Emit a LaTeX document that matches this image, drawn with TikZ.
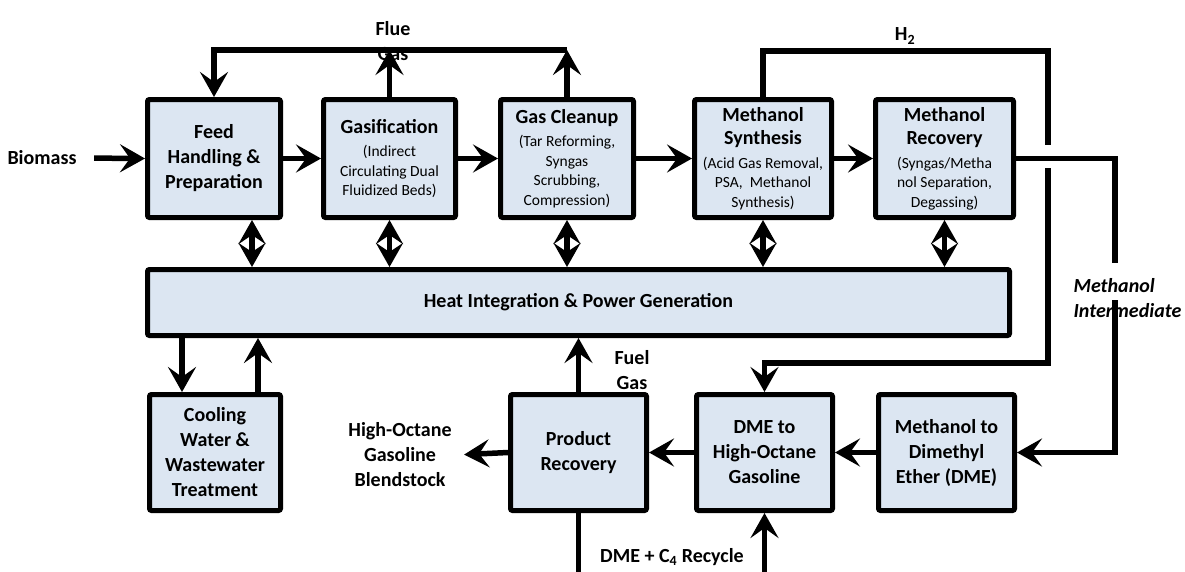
\documentclass[tikz,border=0pt]{standalone}
\usepackage{fontspec}
\setmainfont{Carlito}
\usetikzlibrary{arrows.meta,calc}
\definecolor{boxfill}{RGB}{220,230,242}
\begin{document}
\begin{tikzpicture}[x=1pt,y=-1pt,
  box/.style={draw,line width=5pt,fill=boxfill,rounded corners=2pt,align=center,inner sep=2pt},
  tbox/.style={box,font=\fontsize{20}{25}\selectfont\bfseries},
  sbox/.style={box,font=\fontsize{15.5}{19.5}\selectfont},
  lbl/.style={font=\fontsize{20}{25}\selectfont\bfseries,align=center},
  conn/.style={line width=5.5pt},
  arr/.style={conn,-{Stealth[length=25pt,width=28pt,inset=10pt]}},
  harr/.style={conn,-{Stealth[length=24pt,width=27pt,inset=9pt]}},
]
\useasboundingbox (0,0) rectangle (1185,571);

% top row
\node[tbox,minimum width=133pt,minimum height=118pt] (feed) at (214,158.5) {Feed\\Handling \&\\Preparation};
\node[sbox,minimum width=132pt,minimum height=118pt] (gasif) at (389.5,158.5) {{\fontsize{20}{25}\selectfont\bfseries Gasification}\\[4pt](Indirect\\Circulating Dual\\Fluidized Beds)};
\node[sbox,minimum width=133pt,minimum height=118pt] (clean) at (567,158.5) {{\fontsize{20}{25}\selectfont\bfseries Gas Cleanup}\\[4pt](Tar Reforming,\\Syngas\\Scrubbing,\\Compression)};
\node[sbox,minimum width=137pt,minimum height=118pt] (msyn) at (763,158.5) {{\fontsize{20}{25}\selectfont\bfseries Methanol}\\[4pt]{\fontsize{20}{25}\selectfont\bfseries Synthesis}\\[4pt](Acid Gas Removal,\\PSA,\ \ Methanol\\Synthesis)};
\node[sbox,minimum width=138pt,minimum height=118pt] (mrec) at (944.5,158.5) {{\fontsize{20}{25}\selectfont\bfseries Methanol}\\[4pt]{\fontsize{20}{25}\selectfont\bfseries Recovery}\\[4pt](Syngas/Metha\\nol Separation,\\Degassing)};

% heat integration
\node[box,font=\fontsize{20}{25}\selectfont\bfseries,minimum width=862pt,minimum height=66pt] (heat) at (578.5,302.5) {Heat Integration \& Power Generation};

% bottom row
\node[tbox,minimum width=131pt,minimum height=116pt] (cool) at (215,452.5) {Cooling\\Water \&\\Wastewater\\Treatment};
\node[tbox,minimum width=136pt,minimum height=116pt] (prod) at (578.5,452.5) {Product\\Recovery};
\node[tbox,minimum width=136pt,minimum height=116pt] (dme) at (764.5,452.5) {DME to\\High-Octane\\Gasoline};
\node[tbox,minimum width=136pt,minimum height=116pt] (mtd) at (946.5,452.5) {Methanol to\\Dimethyl\\Ether (DME)};

% labels
\node[lbl] (bio) at (42,158) {Biomass};
\node[lbl] (flue) at (393,41) {Flue\\Gas};
\node[lbl] (h2) at (905,36) {H\textsubscript{2}};
\node[lbl,font=\fontsize{20}{25}\selectfont\bfseries\itshape,align=left,anchor=west] (mi) at (1070,298) {Methanol\\Intermediate};
\node[lbl] (fuel) at (632,370) {Fuel\\Gas};
\node[lbl] (hog) at (400,455) {High-Octane\\Gasoline\\Blendstock};
\node[lbl] (rec) at (672,557) {DME + C\textsubscript{4} Recycle};

% coordinates
\coordinate (fgy) at (0,50);
\coordinate (h2a) at (1048,51);
\coordinate (h2b) at (1048,145);
\coordinate (h2c) at (1048,168);
\coordinate (h2d) at (1048,363);
\coordinate (mi1) at (1115,263);
\coordinate (mi2) at (1115,300);
\coordinate (cd) at (182,0);
\coordinate (cu) at (258,0);
\coordinate (bot) at (0,575);
\coordinate (hx) at ([xshift=38pt]feed.south);

% main flow
\draw[arr,shorten <=14pt] (bio.east) -- (feed.west);
\draw[arr] (feed.east) -- (gasif.west);
\draw[arr] (gasif.east) -- (clean.west);
\draw[arr] (clean.east) -- (msyn.west);
\draw[arr] (msyn.east) -- (mrec.west);

% flue gas
\draw[arr] (clean.north |- fgy) -- (feed.north |- fgy) -- (feed.north);
\draw[arr] (gasif.north) -- (gasif.north |- fgy);
\draw[arr] (clean.north) -- (clean.north |- fgy);

% H2
\draw[conn] (msyn.north) -- (msyn.north |- h2a) -- (h2a) -- (h2b);
\draw[arr] (h2c) -- (h2d) -- (dme.north |- h2d) -- (dme.north);

% methanol intermediate
\draw[conn] (mrec.east) -- (mrec.east -| mi1) -- (mi1);
\draw[arr] (mi2) -- (mi2 |- mtd.east) -- (mtd.east);

% heat integration exchanges (two-way)
\draw[harr] ($(hx)!0.5!(hx |- heat.north)$) -- (hx);
\draw[harr] ($(hx)!0.5!(hx |- heat.north)$) -- (hx |- heat.north);
\foreach \n in {gasif,clean,msyn,mrec}{
  \draw[harr] ($(\n.south)!0.5!(\n.south |- heat.north)$) -- (\n.south);
  \draw[harr] ($(\n.south)!0.5!(\n.south |- heat.north)$) -- (\n.south |- heat.north);
}

% cooling water
\draw[arr] (heat.south -| cd) -- (cool.north -| cd);
\draw[arr] (cool.north -| cu) -- (heat.south -| cu);

% bottom flow
\draw[arr] (mtd.west) -- (dme.east);
\draw[arr] (dme.west) -- (prod.east);
\draw[arr,shorten >=9pt] (prod.west) -- (hog.east);
\draw[arr] (prod.north) -- (prod.north |- heat.south);

% recycle
\draw[conn] (prod.south) -- (prod.south |- bot);
\draw[arr] (dme.south |- bot) -- (dme.south);
\end{tikzpicture}
\end{document}
